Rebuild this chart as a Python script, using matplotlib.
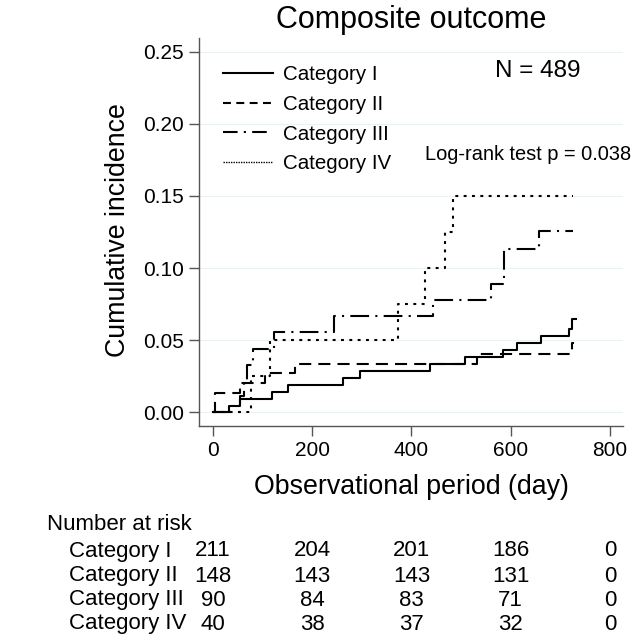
import matplotlib
matplotlib.use("Agg")
import matplotlib.pyplot as plt
import matplotlib.transforms as mtransforms
from matplotlib.lines import Line2D

plt.rcParams['font.family'] = ['Liberation Sans', 'DejaVu Sans']

# ---------------- data ----------------
categories = ["Category I", "Category II", "Category III", "Category IV"]

cat1_days = [0, 32, 54, 119, 151, 262, 296, 437, 508, 585, 613, 661, 718, 724, 731]
cat1_inc = [0, 0.0047, 0.0095, 0.0142, 0.019, 0.0237, 0.0284, 0.0332, 0.038, 0.043, 0.048, 0.053, 0.058, 0.065, 0.065]

cat2_days = [0, 5, 55, 105, 166, 532, 724, 727]
cat2_inc = [0, 0.0135, 0.0203, 0.027, 0.0338, 0.0405, 0.0478, 0.0478]

cat3_days = [0, 55, 62, 68, 80, 123, 244, 444, 560, 587, 657, 726]
cat3_inc = [0, 0.011, 0.022, 0.033, 0.044, 0.056, 0.067, 0.078, 0.089, 0.113, 0.126, 0.126]

cat4_days = [0, 77, 115, 373, 427, 468, 484, 726]
cat4_inc = [0, 0.025, 0.05, 0.075, 0.10, 0.125, 0.15, 0.15]

x_ticks = [0, 200, 400, 600, 800]
y_ticks = [0.00, 0.05, 0.10, 0.15, 0.20, 0.25]

risk_times = [0, 200, 400, 600, 800]
risk_cat1 = [211, 204, 201, 186, 0]
risk_cat2 = [148, 143, 143, 131, 0]
risk_cat3 = [90, 84, 83, 71, 0]
risk_cat4 = [40, 38, 37, 32, 0]

n_total = 489
logrank_p = "0.038"

# ---------------- figure ----------------
fig = plt.figure(figsize=(6.42, 6.44), dpi=100)
ax = fig.add_axes([199/642, 1-426/644, (623-199)/642, (426-38)/644])

plot_styles = ['-', (0, (5.8, 3.4)), (0, (9, 3, 1, 3)), (0, (1.4, 2.6))]
legend_styles = ['-', (0, (3.8, 2.6)), (0, (7, 3, 1, 3)), (0, (1, 0.8))]
legend_lw = [1.5, 1.5, 1.5, 1.0]
series = [(cat1_days, cat1_inc), (cat2_days, cat2_inc), (cat3_days, cat3_inc), (cat4_days, cat4_inc)]
for (d, v), ls in zip(series, plot_styles):
    ax.step(d, v, where='post', color='black', lw=1.5, linestyle=ls)

ax.set_xlim(-28, 826)
ax.set_ylim(-0.0095, 0.2595)
ax.set_xticks(x_ticks)
ax.set_xticklabels([str(t) for t in x_ticks])
ax.set_yticks(y_ticks)
ax.set_yticklabels([f"{t:.2f}" for t in y_ticks])

for s in ['top', 'right']:
    ax.spines[s].set_visible(False)
for s in ['left', 'bottom']:
    ax.spines[s].set_color('#555555')
    ax.spines[s].set_linewidth(1.0)
ax.tick_params(axis='both', length=7, width=1.0, color='#555555', labelsize=15, pad=4)
ax.grid(axis='y', color='#eaf2f3', lw=0.8)
ax.set_axisbelow(True)

ax.set_xlabel("Observational period (day)", fontsize=19.3, va='center')
ax.xaxis.set_label_coords(0.5, (426-487)/388)
ax.set_ylabel("Cumulative incidence", fontsize=19.3, va='center')
ax.yaxis.set_label_coords((118-199)/424, 0.505)

fig.text(411/642, 1-20/644, "Composite outcome", fontsize=22, ha='center', va='center')

handles = [Line2D([], [], color='black', lw=lw, linestyle=ls) for ls, lw in zip(legend_styles, legend_lw)]
leg = ax.legend(handles, categories, loc='upper left', bbox_to_anchor=(0.057, 0.93), frameon=False,
                fontsize=14.8, handlelength=2.4, handletextpad=0.5,
                labelspacing=0.52, borderpad=0, borderaxespad=0)

ax.text((538-199)/424, (426-71)/388, f"N = {n_total}", transform=ax.transAxes,
        fontsize=17.5, ha='center', va='center')
ax.text((425-199)/424, (426-154)/388, f"Log-rank test p = {logrank_p}", transform=ax.transAxes,
        fontsize=14.4, ha='left', va='center')

# ---------------- risk table ----------------
fig.text(47/642, 1-524/644, "Number at risk", fontsize=16, ha='left', va='center')
row_y = [551, 576, 600, 624]
trans = mtransforms.blended_transform_factory(ax.transData, fig.transFigure)
for lab, vals, yy in zip(categories, [risk_cat1, risk_cat2, risk_cat3, risk_cat4], row_y):
    fy = 1 - yy/644
    fig.text(69/642, fy, lab, fontsize=16, ha='left', va='center')
    for t, v in zip(risk_times, vals):
        ax.text(t, fy, str(v), transform=trans, fontsize=16,
                ha='center', va='center', clip_on=False)

fig.savefig("out.png", dpi=100)
